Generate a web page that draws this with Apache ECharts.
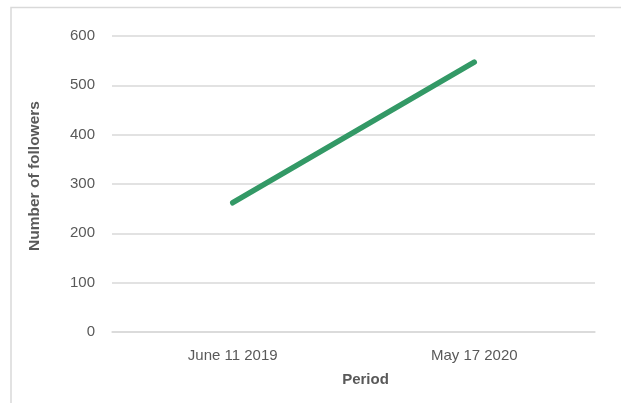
<!DOCTYPE html>
<html>
<head>
<meta charset="utf-8">
<script src="https://cdn.jsdelivr.net/npm/echarts@6/dist/echarts.min.js"></script>
<style>
  html, body { margin: 0; padding: 0; background: #fff; }
  #chart { width: 621px; height: 403px; }
</style>
</head>
<body>
<div id="chart"></div>
<script>
var periods = ['June 11 2019', 'May 17 2020']
var followers = [262, 547]
var yTicks = [0, 100, 200, 300, 400, 500, 600]

var myChart = echarts.init(document.getElementById('chart'))
var textColor = '#595959'
var gridColor = '#d9d9d9'

var option = {
    backgroundColor: '#fff',
    textStyle: { fontFamily: 'Liberation Sans, Arial, sans-serif' },
    graphic: [{
        type: 'polyline',
        shape: { points: [[11, 420], [11, 7.5], [640, 7.5]] },
        style: { stroke: gridColor, lineWidth: 1.5, fill: null },
        silent: true
    }],
    grid: { left: 112, right: 26, top: 36, bottom: 71 },
    xAxis: {
        type: 'category',
        data: periods,
        name: 'Period',
        nameLocation: 'middle',
        nameGap: 40,
        nameTextStyle: { color: textColor, fontSize: 15, fontWeight: 'bold', padding: [0, 0, 0, 24] },
        axisLine: { lineStyle: { color: gridColor, width: 1.5 } },
        axisTick: { show: false },
        axisLabel: { color: textColor, fontSize: 15, margin: 16 }
    },
    yAxis: {
        type: 'value',
        min: yTicks[0],
        max: yTicks[yTicks.length - 1],
        interval: 100,
        name: 'Number of followers',
        nameLocation: 'middle',
        nameGap: 69,
        nameRotate: 90,
        nameTextStyle: { color: textColor, fontSize: 15.5, fontWeight: 'bold', padding: [0, 0, 0, 16] },
        axisLine: { show: false },
        axisTick: { show: false },
        axisLabel: { color: textColor, fontSize: 15, margin: 17 },
        splitLine: { lineStyle: { color: gridColor, width: 1.5 } }
    },
    series: [{
        name: 'Followers',
        type: 'line',
        data: followers,
        symbol: 'none',
        lineStyle: { color: '#339966', width: 5.5, cap: 'round' },
        animation: false
    }]
}
myChart.setOption(option)
</script>
</body>
</html>
